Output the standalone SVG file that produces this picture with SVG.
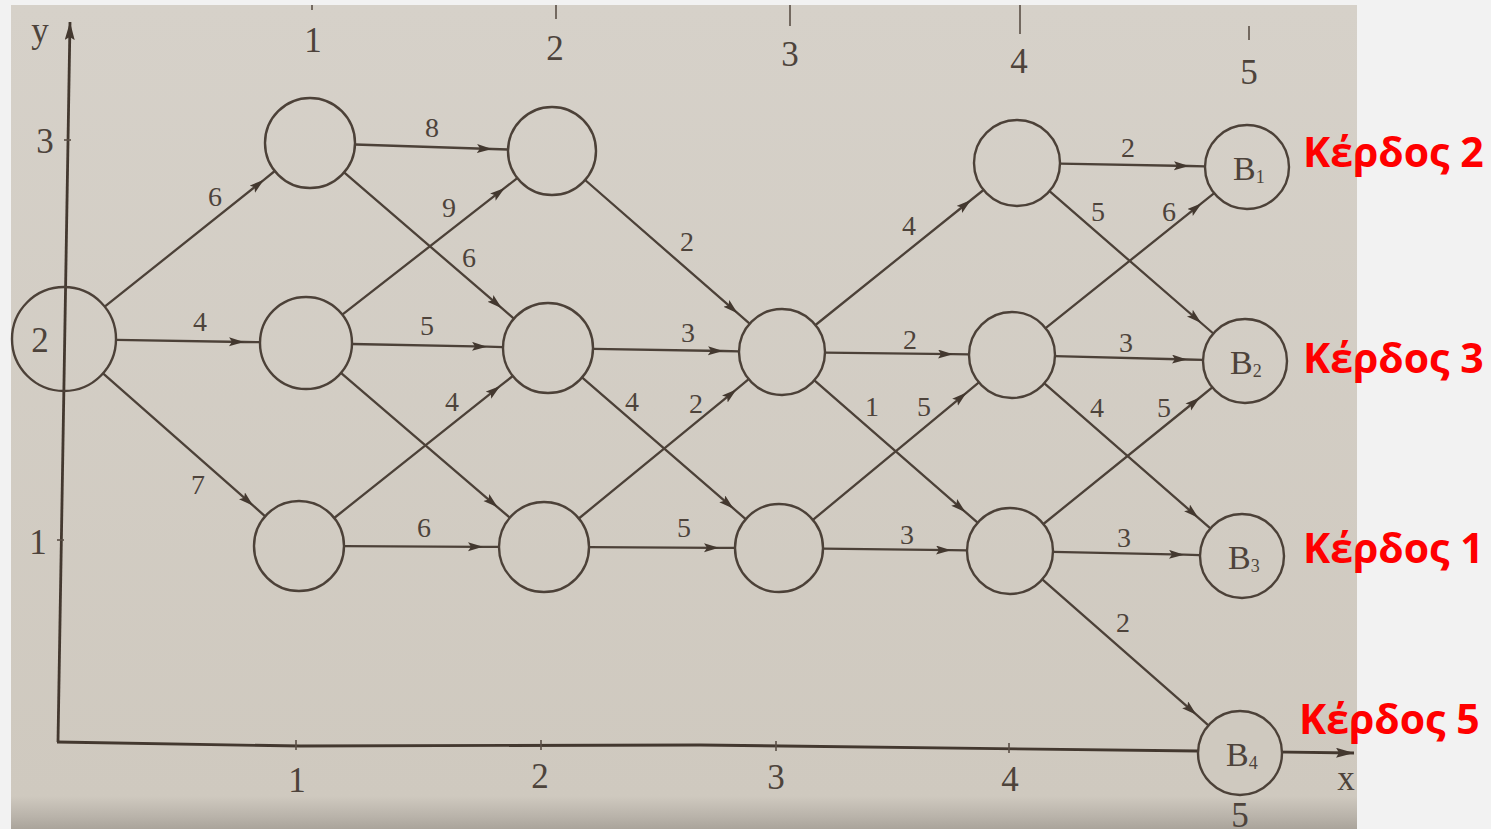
<svg xmlns="http://www.w3.org/2000/svg" width="1491" height="829" viewBox="0 0 1491 829">
<defs>
<linearGradient id="bg" x1="0" y1="0" x2="0" y2="1">
<stop offset="0" stop-color="#d6d1c9"/>
<stop offset="0.96" stop-color="#cfc9bf"/>
<stop offset="0.985" stop-color="#b9b3aa"/>
<stop offset="1" stop-color="#aaa49b"/>
</linearGradient>
<marker id="arr" markerUnits="userSpaceOnUse" markerWidth="18" markerHeight="10" refX="15" refY="4.5" orient="auto">
<path d="M0,0 L15,4.5 L0,9 L3,4.5 z" fill="#43382f"/>
</marker>
<marker id="axarr" markerUnits="userSpaceOnUse" markerWidth="20" markerHeight="12" refX="18" refY="5" orient="auto">
<path d="M0,0 L18,5 L0,10 L3,5 z" fill="#43382f"/>
</marker>
<style>
.e{fill:none;stroke:#4c4138;stroke-width:2.3;marker-mid:url(#arr)}
.ax{fill:none;stroke:#43382f;stroke-width:2.8}
.tk{stroke:#5a4f46;stroke-width:1.6}
.n{fill:none;stroke:#4c4138;stroke-width:2.4}
.nf{fill:#cfc9bf;stroke:#4c4138;stroke-width:2.4}
.lb{font-family:"Liberation Serif",serif;font-size:28px;fill:#4d433b;text-anchor:middle}
.al{font-family:"Liberation Serif",serif;font-size:35px;fill:#4d433b;text-anchor:middle}
.bl{font-family:"Liberation Serif",serif;font-size:34px;fill:#4d433b}
.rd{font-family:"Open Sans","Noto Sans",sans-serif;font-size:41px;font-weight:bold;fill:#ff0000}
</style>
</defs>
<rect x="0" y="0" width="1491" height="829" fill="#f2f2f2"/>
<rect x="11" y="5" width="1346" height="824" fill="url(#bg)"/>

<g id="axes">
<path class="ax" d="M58,742 L70,22" marker-end="url(#axarr)"/>
<path class="ax" d="M57,742 L300,746 L700,745 L1198,751 L1354,753" marker-end="url(#axarr)"/>
<line class="tk" x1="64" y1="140" x2="71" y2="140"/>
<line class="tk" x1="57" y1="540" x2="64" y2="540"/>
<line class="tk" x1="296" y1="740" x2="296" y2="750"/>
<line class="tk" x1="541" y1="740" x2="541" y2="750"/>
<line class="tk" x1="776" y1="741" x2="776" y2="751"/>
<line class="tk" x1="1009" y1="743" x2="1009" y2="753"/>
<line class="tk" x1="312" y1="5" x2="312" y2="10"/>
<line class="tk" x1="556" y1="5" x2="556" y2="19"/>
<line class="tk" x1="790" y1="5" x2="790" y2="26"/>
<line class="tk" x1="1020" y1="5" x2="1020" y2="34"/>
<line class="tk" x1="1249" y1="26" x2="1249" y2="40"/>
<text class="al" x="40" y="42">y</text>
<text class="al" x="45" y="153">3</text>
<text class="al" x="38" y="554">1</text>
<text class="al" x="1346" y="790">x</text>
<text class="al" x="297" y="792">1</text>
<text class="al" x="540" y="788">2</text>
<text class="al" x="776" y="789">3</text>
<text class="al" x="1010" y="791">4</text>
<text class="al" x="1240" y="827">5</text>
<text class="al" x="313" y="52">1</text>
<text class="al" x="555" y="60">2</text>
<text class="al" x="790" y="66">3</text>
<text class="al" x="1019" y="73">4</text>
<text class="al" x="1249" y="84">5</text>
</g>

<g id="connectors">
<path class="e" d="M104.7,306.6 L263.9,179.8 L274.8,171"/>
<path class="e" d="M116,339.9 L244,342 L260,342.2"/>
<path class="e" d="M103,373.4 L253.2,505.7 L265.2,516.3"/>
<path class="e" d="M355,144.5 L492,149 L508,149.5"/>
<path class="e" d="M344.1,172.4 L501.8,308.2 L513.9,318.6"/>
<path class="e" d="M342.3,314.7 L504.7,187.9 L517.3,178.1"/>
<path class="e" d="M352,344 L487,346.7 L503,347.1"/>
<path class="e" d="M340.9,372.9 L497.7,507.3 L509.8,517.7"/>
<path class="e" d="M334.2,518 L500.2,385.9 L512.8,376"/>
<path class="e" d="M344,546.2 L483,546.8 L499,546.8"/>
<path class="e" d="M585.1,180 L737.6,313.2 L749.6,323.7"/>
<path class="e" d="M593,348.8 L723,351 L739,351.3"/>
<path class="e" d="M582,377.4 L733.6,508.7 L745.7,519.2"/>
<path class="e" d="M578.8,518.5 L736.4,389.4 L748.7,379.2"/>
<path class="e" d="M589,547.2 L719,547.8 L735,547.8"/>
<path class="e" d="M815.5,325 L971,200 L983.5,190"/>
<path class="e" d="M825,352.6 L953,354.2 L969,354.4"/>
<path class="e" d="M814.4,380.3 L965.5,512.2 L977.6,522.7"/>
<path class="e" d="M812.9,519.9 L966.6,392.6 L978.9,382.4"/>
<path class="e" d="M823,548.6 L951,550.2 L967,550.4"/>
<path class="e" d="M1060,163.7 L1189,166 L1205,166.3"/>
<path class="e" d="M1049.5,191.2 L1201.2,323 L1213.3,333.5"/>
<path class="e" d="M1045.6,328.1 L1201.7,203.2 L1214.2,193.2"/>
<path class="e" d="M1055,356.1 L1187,359.5 L1203,359.9"/>
<path class="e" d="M1044.4,383.3 L1198.3,517.8 L1210.4,528.4"/>
<path class="e" d="M1043.4,524 L1199.9,397.5 L1212.3,387.4"/>
<path class="e" d="M1053,551.9 L1184,554.7 L1200,555.1"/>
<path class="e" d="M1042.3,579.4 L1196.4,714.7 L1208.4,725.3"/>
<g id="edge-labels">
<text class="lb" x="215" y="206">6</text>
<text class="lb" x="200" y="331">4</text>
<text class="lb" x="198" y="494">7</text>
<text class="lb" x="432" y="137">8</text>
<text class="lb" x="469" y="267">6</text>
<text class="lb" x="449" y="217">9</text>
<text class="lb" x="427" y="335">5</text>
<text class="lb" x="452" y="411">4</text>
<text class="lb" x="424" y="537">6</text>
<text class="lb" x="687" y="251">2</text>
<text class="lb" x="688" y="342">3</text>
<text class="lb" x="632" y="411">4</text>
<text class="lb" x="696" y="413">2</text>
<text class="lb" x="684" y="537">5</text>
<text class="lb" x="909" y="235">4</text>
<text class="lb" x="910" y="349">2</text>
<text class="lb" x="872" y="416">1</text>
<text class="lb" x="924" y="416">5</text>
<text class="lb" x="907" y="544">3</text>
<text class="lb" x="1128" y="157">2</text>
<text class="lb" x="1098" y="221">5</text>
<text class="lb" x="1169" y="221">6</text>
<text class="lb" x="1126" y="352">3</text>
<text class="lb" x="1097" y="417">4</text>
<text class="lb" x="1164" y="417">5</text>
<text class="lb" x="1124" y="547">3</text>
<text class="lb" x="1123" y="632">2</text>
</g>
</g>

<g id="node-start"><circle class="n" cx="64" cy="339" r="52"/><text class="al" x="40" y="352">2</text></g>
<g id="node-1-top"><circle class="n" cx="310" cy="143" r="45"/></g>
<g id="node-1-mid"><circle class="n" cx="306" cy="343" r="46"/></g>
<g id="node-1-bot"><circle class="n" cx="299" cy="546" r="45"/></g>
<g id="node-2-top"><circle class="n" cx="552" cy="151" r="44"/></g>
<g id="node-2-mid"><circle class="n" cx="548" cy="348" r="45"/></g>
<g id="node-2-bot"><circle class="n" cx="544" cy="547" r="45"/></g>
<g id="node-3-mid"><circle class="n" cx="782" cy="352" r="43"/></g>
<g id="node-3-bot"><circle class="n" cx="779" cy="548" r="44"/></g>
<g id="node-4-top"><circle class="n" cx="1017" cy="163" r="43"/></g>
<g id="node-4-mid"><circle class="n" cx="1012" cy="355" r="43"/></g>
<g id="node-4-bot"><circle class="n" cx="1010" cy="551" r="43"/></g>
<g id="node-B1"><circle class="n" cx="1247" cy="167" r="42"/><text class="bl" x="1233" y="180">B<tspan font-size="18" dy="3">1</tspan></text></g>
<g id="node-B2"><circle class="n" cx="1245" cy="361" r="42"/><text class="bl" x="1230" y="374">B<tspan font-size="18" dy="3">2</tspan></text></g>
<g id="node-B3"><circle class="n" cx="1242" cy="556" r="42"/><text class="bl" x="1228" y="569">B<tspan font-size="18" dy="3">3</tspan></text></g>
<g id="node-B4"><circle class="nf" cx="1240" cy="753" r="42"/><text class="bl" x="1226" y="766">B<tspan font-size="18" dy="3">4</tspan></text></g>

<g id="profits">
<text class="rd" x="1303" y="167">Κέρδος 2</text>
<text class="rd" x="1303" y="373">Κέρδος 3</text>
<text class="rd" x="1303" y="563">Κέρδος 1</text>
<text class="rd" x="1299" y="734">Κέρδος 5</text>
</g>
</svg>
